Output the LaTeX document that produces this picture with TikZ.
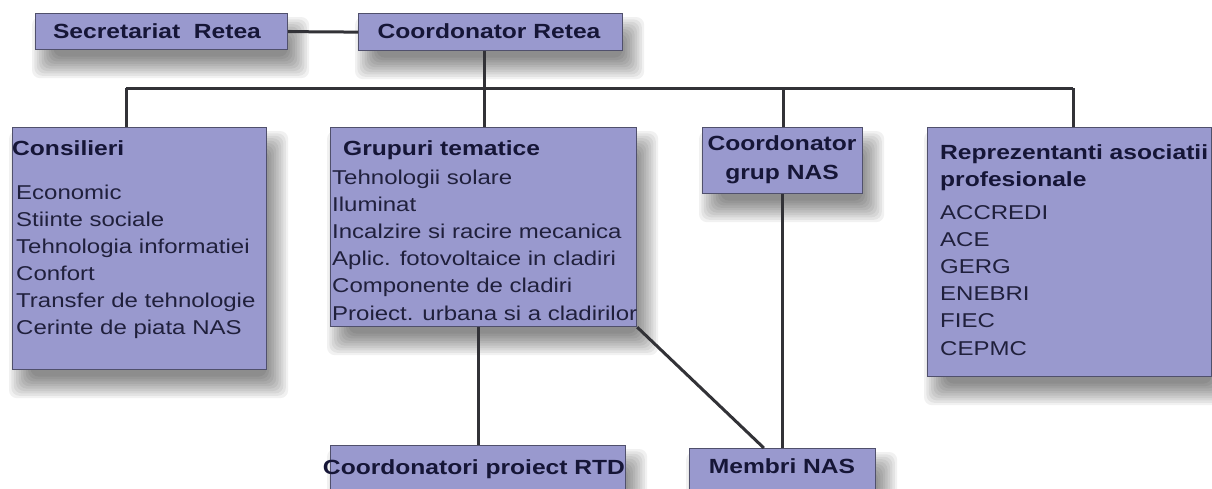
\documentclass[tikz,border=0pt]{standalone}
\usepackage{fontspec}
\setmainfont{Liberation Sans}[FakeStretch=1.2]
\usetikzlibrary{calc}
\definecolor{boxfill}{RGB}{153,153,206}
\definecolor{boxline}{RGB}{80,80,108}
\definecolor{conn}{RGB}{50,50,55}
\definecolor{titletxt}{RGB}{22,22,55}
\definecolor{bodytxt}{RGB}{32,32,60}
\pgfdeclarelayer{bglayer}
\pgfdeclarelayer{shadowlayer}
\pgfsetlayers{bglayer,shadowlayer,main}
\begin{document}
\begin{tikzpicture}[x=1pt,y=-1pt,
  box/.style={draw=boxline, line width=1.2pt, fill=boxfill, anchor=north west, inner sep=0pt},
  softshade/.style={fill=black, opacity=0.055, rounded corners=8pt},
  link/.style={draw=conn, line width=3pt},
  ttl/.style={font=\fontsize{20.5}{27}\selectfont\bfseries, text=titletxt, inner sep=0pt},
  body/.style={font=\fontsize{20}{27.2}\selectfont, text=bodytxt, inner sep=0pt}]
\useasboundingbox (0,0) rectangle (1212,488);
\begin{pgfonlayer}{bglayer}
\fill[white] (0,0) rectangle (1212,488);
\end{pgfonlayer}

% boxes
\node[box, minimum width=252pt, minimum height=36pt] (sec) at (35,13) {};
\node[box, minimum width=264pt, minimum height=37pt] (cr) at (358,13) {};
\node[box, minimum width=254pt, minimum height=242pt] (cons) at (12,127) {};
\node[box, minimum width=306pt, minimum height=199pt] (gt) at (330,127) {};
\node[box, minimum width=160pt, minimum height=66pt] (cgn) at (702,127) {};
\node[box, minimum width=284pt, minimum height=249pt] (rep) at (927,127) {};
\node[box, minimum width=295pt, minimum height=50pt] (rtd) at (330,445) {};
\node[box, minimum width=186pt, minimum height=50pt] (mn) at (689,448) {};

% soft drop shadows behind the boxes
\begin{pgfonlayer}{shadowlayer}
\foreach \n in {sec,cr,cons,gt,cgn,rep,rtd,mn}{
  \foreach \k in {0,...,9}{
    \fill[softshade] ($(\n.north west)+({-3+2.4*\k},{4+2.4*\k})$) rectangle ($(\n.south east)+({21-2.4*\k},{28-2.4*\k})$);
  }
}
\end{pgfonlayer}

% titles
\node[ttl, anchor=base] (sect) at (157,38) {Secretariat\ \ Retea};
\node[ttl, anchor=base] (crt) at (489,38) {Coordonator Retea};
\node[ttl, anchor=base west] (const) at (12,155) {Consilieri};
\node[ttl, anchor=base west] (gtt) at (343,155) {Grupuri tematice};
\node[ttl, anchor=base] (cgnt1) at (782,150) {Coordonator};
\node[ttl, anchor=base] (cgnt2) at (782,179) {grup NAS};
\node[ttl, anchor=base west] (rept1) at (940,159) {Reprezentanti asociatii};
\node[ttl, anchor=base west] (rept2) at (940,186) {profesionale};
\node[ttl, anchor=base] (rtdt) at (474,474) {Coordonatori proiect RTD};
\node[ttl, anchor=base] (mnt) at (782,473) {Membri NAS};

% lists
\foreach \t [count=\i from 0] in {Economic, Stiinte sociale, Tehnologia informatiei, Confort, Transfer de tehnologie, Cerinte de piata NAS}
  \node[body, anchor=base west] (consi\i) at (16,{199+27.1*\i}) {\t};
\foreach \t [count=\i from 0] in {Tehnologii solare, Iluminat, Incalzire si racire mecanica, Aplic. fotovoltaice in cladiri, Componente de cladiri, Proiect. urbana si a cladirilor}
  \node[body, anchor=base west] (gti\i) at (332,{184+27.2*\i}) {\t};
\foreach \t [count=\i from 0] in {ACCREDI, ACE, GERG, ENEBRI, FIEC, CEPMC}
  \node[body, anchor=base west] (repi\i) at (940,{219+27.2*\i}) {\t};

% connectors
\coordinate (hl) at (126,88);
\coordinate (hub) at (484,88);
\coordinate (hm) at (783,88);
\coordinate (hr) at (1073,88);
\coordinate (mnin) at ($(mn.north west)!0.4!(mn.north east)$);
\draw[link] (sec.east) -- (cr.west);
\draw[link] (cr.south -| hub) -- (hub);
\draw[link] (hl) -- (hr);
\draw[link] (hl) -- (hl |- cons.north);
\draw[link] (hub) -- (hub |- gt.north);
\draw[link] (hm) -- (hm |- cgn.north);
\draw[link] (hr) -- (hr |- rep.north);
\draw[link] (rtd.north) -- (rtd.north |- gt.south);
\draw[link] (gt.south east) -- (mnin);
\draw[link] (cgn.south) -- (cgn.south |- mn.north);
\end{tikzpicture}
\end{document}
